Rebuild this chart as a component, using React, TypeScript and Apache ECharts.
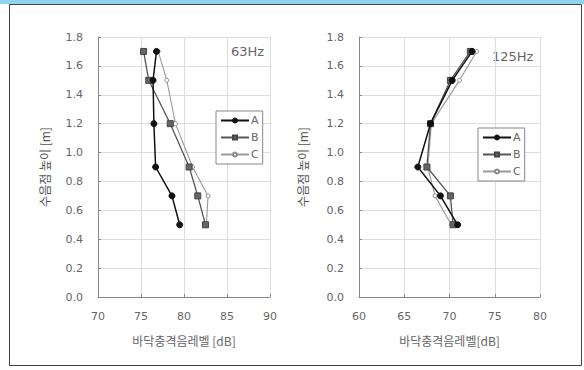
import React, { useEffect, useRef } from "react";
import * as echarts from "echarts";

const heights = [1.7, 1.5, 1.2, 0.9, 0.7, 0.5];
const yTicks = [0, 0.2, 0.4, 0.6, 0.8, 1.0, 1.2, 1.4, 1.6, 1.8];

// 63Hz
const a63 = [76.8, 76.4, 76.5, 76.7, 78.6, 79.5];
const b63 = [75.3, 75.9, 78.4, 80.6, 81.6, 82.5];
const c63 = [77.0, 78.0, 79.0, 81.0, 82.8, 82.6];

// 125Hz
const a125 = [72.5, 70.3, 67.9, 66.5, 69.0, 70.9];
const b125 = [72.3, 70.1, 67.9, 67.5, 70.1, 70.4];
const c125 = [73.0, 71.1, 68.0, 67.6, 68.4, 70.2];

const seriesNames = ["A", "B", "C"];
const panelTitles = ["63Hz", "125Hz"];
const xNames = ["바닥충격음레벨 [dB]", "바닥충격음레벨[dB]"];
const yName = "수음점 높이 [m]";

const FONT = "DejaVu Sans, sans-serif";
const KFONT = "Noto Sans CJK KR, sans-serif";
const TXT = "#666";

function pairs(xs: number[]) {
  return xs.map((v, i) => [v, heights[i]]);
}

const styles = [
  { color: "#111", symbol: "circle", symbolSize: 6, itemColor: "#111", border: "#111", lineW: 1.5 },
  { color: "#555", symbol: "rect", symbolSize: 6, itemColor: "#666", border: "#444", lineW: 1.3 },
  { color: "#999", symbol: "circle", symbolSize: 4, itemColor: "#fff", border: "#888", lineW: 1.1 },
];

export default function App() {
  const ref = useRef<HTMLDivElement>(null);
  useEffect(() => {
    if (!ref.current) return;
    const chart = echarts.init(ref.current, null, { renderer: "svg" });
    const grids = [
      { left: 98, top: 37, width: 172, height: 260 },
      { left: 359, top: 37, width: 181, height: 260 },
    ];
    const xRanges = [
      [70, 90],
      [60, 80],
    ];
    const data = [
      [a63, b63, c63],
      [a125, b125, c125],
    ];
    const series: any[] = [];
    data.forEach((panel, gi) => {
      panel.forEach((vals, si) => {
        const s = styles[si];
        series.push({
          type: "line",
          name: seriesNames[si],
          xAxisIndex: gi,
          yAxisIndex: gi,
          data: pairs(vals),
          symbol: s.symbol,
          symbolSize: s.symbolSize,
          lineStyle: { color: s.color, width: s.lineW },
          itemStyle: { color: s.itemColor, borderColor: s.border, borderWidth: 1 },
          z: 10 - si,
        });
      });
    });
    chart.setOption({
      animation: false,
      backgroundColor: "#fff",
      grid: grids,
      xAxis: grids.map((_, gi) => ({
        type: "value",
        gridIndex: gi,
        min: xRanges[gi][0],
        max: xRanges[gi][1],
        interval: 5,
        name: xNames[gi],
        nameLocation: "middle",
        nameGap: 37,
        nameTextStyle: { color: TXT, fontSize: 12, fontFamily: KFONT },
        axisLine: { show: true, lineStyle: { color: "#888", width: 1 } },
        axisTick: { show: true, inside: true, length: 3, lineStyle: { color: "#888" } },
        axisLabel: { color: TXT, fontSize: 11, fontFamily: FONT, margin: 14 },
        splitLine: { show: true, lineStyle: { color: "#ddd", width: 1 } },
      })),
      yAxis: grids.map((_, gi) => ({
        type: "value",
        gridIndex: gi,
        min: 0,
        max: 1.8,
        interval: 0.2,
        name: yName,
        nameLocation: "middle",
        nameRotate: 90,
        nameGap: gi === 0 ? 48 : 51,
        nameTextStyle: { color: "#555", fontSize: 12, fontFamily: KFONT },
        axisLine: { show: true, lineStyle: { color: "#888", width: 1 } },
        axisTick: { show: true, inside: true, length: 3, lineStyle: { color: "#888" } },
        axisLabel: {
          color: TXT,
          fontSize: 11,
          fontFamily: FONT,
          margin: 15,
          formatter: (v: number) => (yTicks.some((t) => Math.abs(t - v) < 1e-6) ? v.toFixed(1) : ""),
        },
        splitLine: { show: true, lineStyle: { color: "#ddd", width: 1 } },
      })),
      legend: [
        { left: 216, top: 111 },
        { left: 478, top: 128 },
      ].map((p) => ({
        left: p.left,
        top: p.top,
        orient: "vertical",
        data: seriesNames,
        itemWidth: 28,
        itemHeight: 5,
        itemGap: 6,
        padding: [4, 4, 4, 4],
        borderColor: "#888",
        borderWidth: 1,
        backgroundColor: "#fff",
        selectedMode: false,
        textStyle: { color: TXT, fontSize: 11, fontFamily: FONT, padding: [0, 0, 0, -3] },
      })),
      graphic: [
        { type: "rect", shape: { x: 0, y: 0, width: 584, height: 4 }, style: { fill: "#8fd4f0" } },
        {
          type: "rect",
          shape: { x: 9.5, y: 4.5, width: 572, height: 361 },
          style: { fill: "none", stroke: "#444", lineWidth: 1 },
        },
        {
          type: "text",
          left: 231,
          top: 45,
          style: { text: panelTitles[0], fill: TXT, fontSize: 13, fontFamily: FONT },
        },
        {
          type: "text",
          left: 492,
          top: 50,
          style: { text: panelTitles[1], fill: TXT, fontSize: 13, fontFamily: FONT },
        },
      ],
      series,
    });
    return () => chart.dispose();
  }, []);
  return (
    <div
      ref={ref}
      style={{ position: "fixed", left: 0, top: 0, width: 584, height: 370 }}
    />
  );
}
